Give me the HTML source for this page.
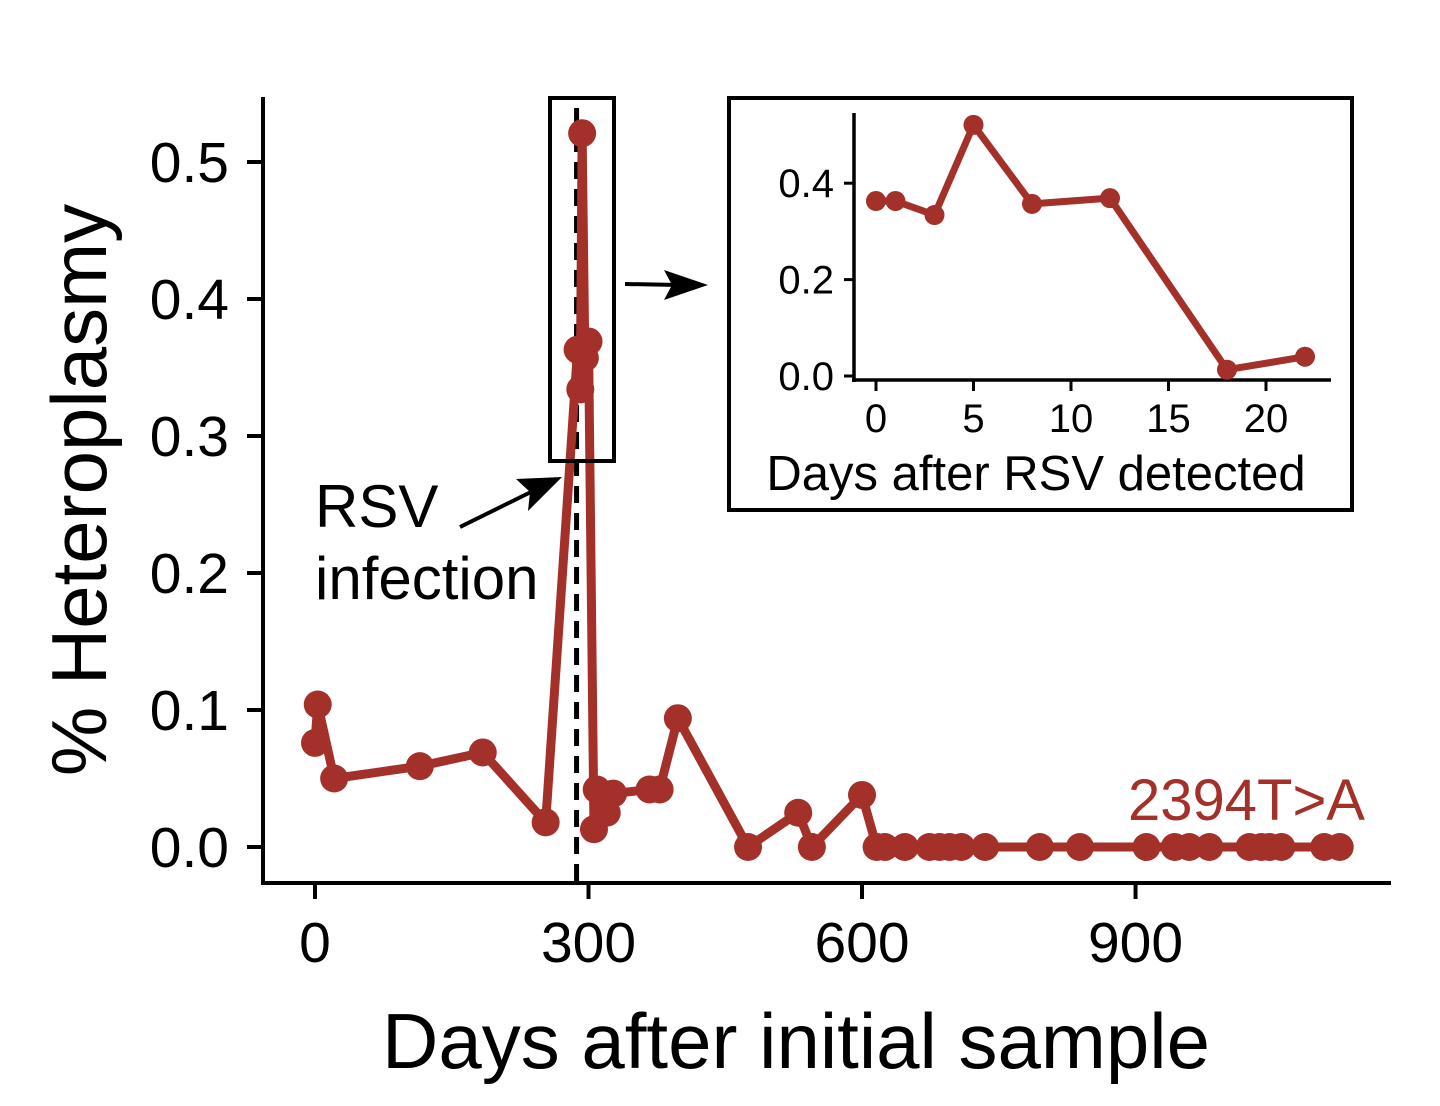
<!DOCTYPE html>
<html><head><meta charset="utf-8"><style>
html,body{margin:0;padding:0;background:#fff;}
svg{display:block;font-family:"Liberation Sans",sans-serif;}
</style></head><body>
<svg id="chart" width="1440" height="1106" viewBox="0 0 1440 1106">
  <g id="main"></g>
  <g id="inset"></g>
</svg>
<script>
const mainDays = [0,3,21,115,184,253,288,289,291,293,296,300,306,309,320,327,367,378,398,475,530,545,600,616,625,647,674,685,696,709,735,795,839,912,943,959,981,1025,1038,1047,1060,1107,1124];
const mainVals = [0.076,0.104,0.050,0.059,0.069,0.018,0.363,0.363,0.334,0.521,0.357,0.369,0.013,0.042,0.025,0.039,0.042,0.042,0.094,0,0.025,0,0.038,0,0,0,0,0,0,0,0,0,0,0,0,0,0,0,0,0,0,0,0];
const mainXTicks = [0,300,600,900];
const mainYTicks = [0.0,0.1,0.2,0.3,0.4,0.5];
const insetDays = [0,1,3,5,8,12,18,22];
const insetVals = [0.363,0.363,0.334,0.521,0.357,0.369,0.013,0.040];
const insetXTicks = [0,5,10,15,20];
const insetYTicks = [0.0,0.2,0.4];
const rsvDay = 288;

const NS="http://www.w3.org/2000/svg";
const COL="#a4302a";
function mk(parent,tag,attrs,text){const e=document.createElementNS(NS,tag);for(const k in attrs)e.setAttribute(k,attrs[k]);if(text!==undefined)e.textContent=text;parent.appendChild(e);return e;}

const mx=d=>315+d*0.9117;
const my=v=>847-v*1370;
const g=document.getElementById('main');
let e;
e=mk(g,'line',{x1:263,y1:97,x2:263,y2:885,stroke:'#000','stroke-width':4});


e=mk(g,'line',{x1:261,y1:883,x2:1391,y2:883,stroke:'#000','stroke-width':4});


mainYTicks.forEach(v=>{
  e=mk(g,'line',{x1:247,y1:my(v),x2:263,y2:my(v),stroke:'#000','stroke-width':4});
  
  
  e=mk(g,'text',{x:229,y:my(v)+20,'text-anchor':'end','font-size':57},v.toFixed(1));
  
  
});
mainXTicks.forEach(d=>{
  e=mk(g,'line',{x1:mx(d),y1:883,x2:mx(d),y2:899,stroke:'#000','stroke-width':4});
  
  
  e=mk(g,'text',{x:mx(d),y:962,'text-anchor':'middle','font-size':57},String(d));
  
  
});
e=mk(g,'text',{x:796,y:1068,'text-anchor':'middle','font-size':78},'Days after initial sample');


e=mk(g,'text',{x:0,y:0,'text-anchor':'middle','font-size':78,transform:'translate(106,490) rotate(-90)'},'% Heteroplasmy');


e=mk(g,'line',{x1:mx(rsvDay)-1,y1:108,x2:mx(rsvDay)-1,y2:883,stroke:'#000','stroke-width':5,'stroke-dasharray':'17,10'});


e=mk(g,'polyline',{points:mainDays.map((d,i)=>mx(d)+','+my(mainVals[i])).join(' '),fill:'none',stroke:COL,'stroke-width':9,'stroke-linejoin':'round'});


mainDays.forEach((d,i)=>{
  e=mk(g,'circle',{cx:mx(d),cy:my(mainVals[i]),r:14,fill:COL});
  
  
});
e=mk(g,'rect',{x:550,y:98,width:64,height:363,fill:'none',stroke:'#000','stroke-width':4});


e=mk(g,'line',{x1:625,y1:284,x2:680,y2:285,stroke:'#000','stroke-width':4});


e=mk(g,'polygon',{points:'708,285 664,270 672,285 664,300',fill:'#000'});


e=mk(g,'line',{x1:460,y1:527,x2:535,y2:490,stroke:'#000','stroke-width':4});


e=mk(g,'polygon',{points:'562,477 516,479 530,492 528,511',fill:'#000'});


e=mk(g,'text',{x:315,y:527,'font-size':60},'RSV');


e=mk(g,'text',{x:315,y:599,'font-size':60},'infection');


e=mk(g,'text',{x:1365,y:820,'text-anchor':'end','font-size':58,fill:COL},'2394T>A');



const ix=d=>876+d*19.5;
const iy=v=>376-v*482;
const h=document.getElementById('inset');
e=mk(h,'rect',{x:729,y:98,width:623,height:412,fill:'#fff',stroke:'#000','stroke-width':4});


e=mk(h,'line',{x1:854,y1:113,x2:854,y2:382,stroke:'#000','stroke-width':3.5});


e=mk(h,'line',{x1:852,y1:380,x2:1331,y2:380,stroke:'#000','stroke-width':3.5});


insetYTicks.forEach(v=>{
  e=mk(h,'line',{x1:844,y1:iy(v),x2:854,y2:iy(v),stroke:'#000','stroke-width':3});
  
  
  e=mk(h,'text',{x:834,y:iy(v)+14,'text-anchor':'end','font-size':40},v.toFixed(1));
  
  
});
insetXTicks.forEach(d=>{
  e=mk(h,'line',{x1:ix(d),y1:380,x2:ix(d),y2:391,stroke:'#000','stroke-width':3});
  
  
  e=mk(h,'text',{x:ix(d),y:432,'text-anchor':'middle','font-size':40},String(d));
  
  
});
e=mk(h,'text',{x:1036,y:490,'text-anchor':'middle','font-size':49},'Days after RSV detected');


e=mk(h,'polyline',{points:insetDays.map((d,i)=>ix(d)+','+iy(insetVals[i])).join(' '),fill:'none',stroke:COL,'stroke-width':7,'stroke-linejoin':'round'});


insetDays.forEach((d,i)=>{
  e=mk(h,'circle',{cx:ix(d),cy:iy(insetVals[i]),r:10,fill:COL});
  
  
});
</script>
</body></html>
